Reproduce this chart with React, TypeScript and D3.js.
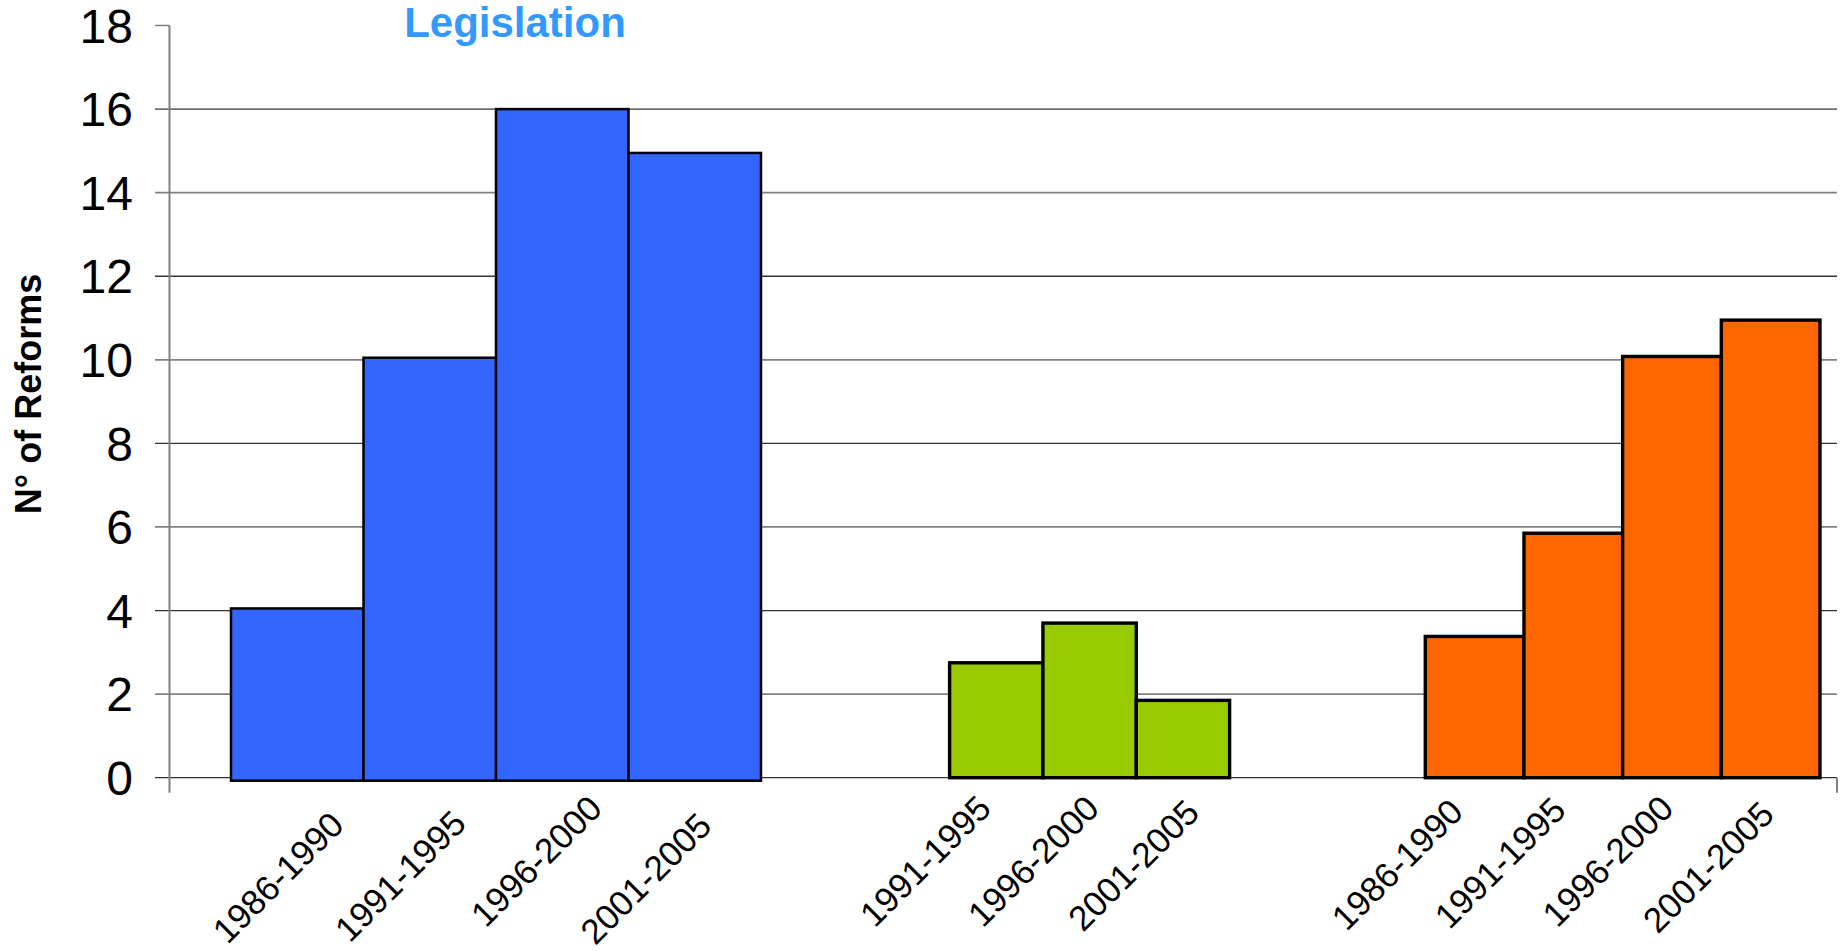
import React from "react";
import * as d3 from "d3";

// ---- data ----
const yTicks = [0, 2, 4, 6, 8, 10, 12, 14, 16, 18];
const legislationPeriods = ["1986-1990", "1991-1995", "1996-2000", "2001-2005"];
const legislationValues = [4.05, 10.05, 16.0, 14.95];
const middlePeriods = ["1991-1995", "1996-2000", "2001-2005"];
const middleValues = [2.75, 3.7, 1.85];
const rightPeriods = ["1986-1990", "1991-1995", "1996-2000", "2001-2005"];
const rightValues = [3.38, 5.85, 10.08, 10.95];
const titleText = "Legislation";
const yAxisTitle = "N° of Reforms";

// ---- layout ----
const W = 1845;
const H = 951;
const axisX = 169.5;
const tickStart = 155;
const plotRight = 1837;
const yScale = d3.scaleLinear().domain([0, 18]).range([777.7, 25.5]);

const groups = [
  {
    periods: legislationPeriods,
    values: legislationValues,
    range: [231, 761],
    fill: "#3366FF",
    strokeW: 2.5,
    bottomExtra: 3,
    labelDx: [-19.5, -29.7, -26.3, -49.2],
    labelY: [877.3, 875.8, 860.8, 878.3],
  },
  {
    periods: middlePeriods,
    values: middleValues,
    range: [949.6, 1229.6],
    fill: "#99CC00",
    strokeW: 3.4,
    bottomExtra: 0,
    labelDx: [-71.3, -56.5, -49.7],
    labelY: [860.8, 860.8, 865],
  },
  {
    periods: rightPeriods,
    values: rightValues,
    range: [1425.3, 1820],
    fill: "#FF6600",
    strokeW: 3.4,
    bottomExtra: 0,
    labelDx: [-77.7, -73.6, -64.4, -62.7],
    labelY: [864.2, 862.5, 860.8, 866.7],
  },
];

const FONT = "'Liberation Sans', Arial, Helvetica, sans-serif";
const labelSize = 35;
const tickSize = 48;

export default function App() {
  const y0 = yScale(0);
  return (
    <svg
      width={W}
      height={H}
      style={{ position: "absolute", left: 0, top: 0, background: "#fff" }}
      fontFamily={FONT}
    >
      <rect x={0} y={0} width={W} height={H} fill="#fff" />
      {/* gridlines */}
      {yTicks.map((t) => {
        const y = yScale(t);
        const dark = t % 4 === 0;
        if (t === 18) {
          return (
            <line key={t} x1={tickStart} x2={axisX} y1={y} y2={y} stroke="#808080" strokeWidth={1.5} />
          );
        }
        return (
          <line
            key={t}
            x1={tickStart}
            x2={plotRight}
            y1={y}
            y2={y}
            stroke={dark ? "#333" : "#808080"}
            strokeWidth={dark ? 1.3 : 1.8}
          />
        );
      })}
      {/* y axis */}
      <line x1={axisX} x2={axisX} y1={yScale(18)} y2={y0 + 15} stroke="#808080" strokeWidth={2} />
      <line x1={plotRight} x2={plotRight} y1={y0} y2={y0 + 15} stroke="#808080" strokeWidth={2} />
      {/* tick labels */}
      {yTicks.map((t) => (
        <text
          key={"l" + t}
          x={133}
          y={yScale(t) + 0.358 * tickSize}
          fontSize={tickSize}
          textAnchor="end"
          fill="#000"
        >
          {t}
        </text>
      ))}
      {/* bars */}
      {groups.map((g, gi) => {
        const xb = d3.scaleBand().domain(g.periods.map((p, i) => i + ":" + p)).range(g.range as [number, number]).padding(0);
        return (
          <g key={gi}>
            {g.values.map((v, i) => {
              const key = i + ":" + g.periods[i];
              const x = xb(key)!;
              const top = yScale(v);
              return (
                <rect
                  key={key}
                  x={x}
                  y={top}
                  width={xb.bandwidth()}
                  height={y0 + g.bottomExtra - top}
                  fill={g.fill}
                  stroke="#000"
                  strokeWidth={g.strokeW}
                />
              );
            })}
            {g.periods.map((p, i) => {
              const key = i + ":" + p;
              const cx = xb(key)! + xb.bandwidth() / 2 + g.labelDx[i];
              const cy = g.labelY[i];
              return (
                <text
                  key={"t" + key}
                  transform={`translate(${cx},${cy}) rotate(-45)`}
                  x={0}
                  y={0.358 * labelSize}
                  fontSize={labelSize}
                  textAnchor="middle"
                  fill="#000"
                >
                  {p}
                </text>
              );
            })}
          </g>
        );
      })}
      {/* title */}
      <text x={515} y={36.7} fontSize={42} fontWeight="bold" fill="#3399FF" textAnchor="middle">
        {titleText}
      </text>
      {/* y axis title */}
      <text
        transform={`translate(${28.5 + 0.36 * 36},394) rotate(-90)`}
        fontSize={36}
        fontWeight="bold"
        textAnchor="middle"
        fill="#000"
      >
        {yAxisTitle}
      </text>
    </svg>
  );
}
